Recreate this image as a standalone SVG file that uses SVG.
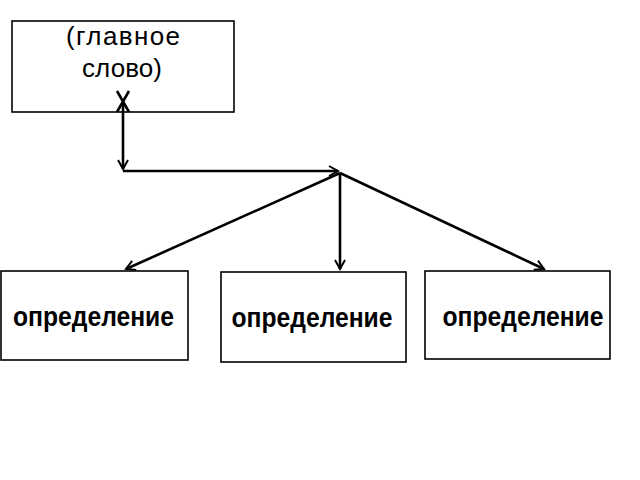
<svg xmlns="http://www.w3.org/2000/svg" width="640" height="480" viewBox="0 0 640 480">
<style>
.box{fill:#fff;stroke:#000;stroke-width:1.6}
.ln{fill:none;stroke:#000;stroke-width:2.6}
.t1{font-family:"Liberation Sans",Arial,sans-serif;font-size:26px;fill:#000;text-anchor:middle}
.t2{font-family:"Liberation Sans",Arial,sans-serif;font-size:27px;font-weight:bold;fill:#000;text-anchor:middle}
</style>
<defs>
<marker id="ah" markerWidth="12" markerHeight="12" refX="10" refY="6" orient="auto" markerUnits="userSpaceOnUse">
<path d="M1,1 L10,6 L1,11" fill="none" stroke="#000" stroke-width="2"/>
</marker>
</defs>
<rect width="640" height="480" fill="#fff"/>
<g id="main">
<rect class="box" x="12" y="21" width="222" height="91"/>
<text class="t1" x="123" y="45" textLength="114" lengthAdjust="spacing">(главное</text>
<text class="t1" x="122" y="77" textLength="80" lengthAdjust="spacing">слово)</text>
</g>
<g id="def1">
<rect class="box" x="1" y="271" width="187" height="89"/>
<text class="t2" x="93.5" y="326" textLength="161" lengthAdjust="spacingAndGlyphs">определение</text>
</g>
<g id="def2">
<rect class="box" x="221" y="272" width="185" height="90"/>
<text class="t2" x="312" y="327" textLength="161" lengthAdjust="spacingAndGlyphs">определение</text>
</g>
<g id="def3">
<rect class="box" x="425" y="271" width="185" height="88"/>
<text class="t2" x="523" y="326" textLength="161" lengthAdjust="spacingAndGlyphs">определение</text>
</g>
<g id="connectors">
<path class="ln" d="M117,91 L129,112 M129,91 L117,112"/>
<path class="ln" d="M123,102 L123,169" marker-end="url(#ah)"/>
<path class="ln" d="M123,171 L338,171" marker-end="url(#ah)"/>
<path class="ln" d="M340,173 L126,269" marker-end="url(#ah)"/>
<path class="ln" d="M340,173 L340,269" marker-end="url(#ah)"/>
<path class="ln" d="M340,173 L544,269" marker-end="url(#ah)"/>
</g>
</svg>
